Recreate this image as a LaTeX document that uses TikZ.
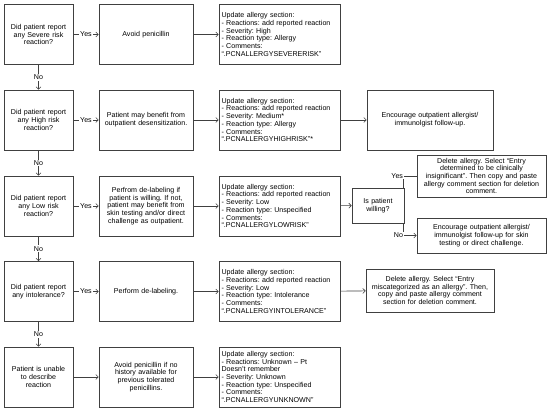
\documentclass[tikz,border=0pt]{standalone}
\usepackage{fontspec}
\setmainfont{Liberation Sans}
\usetikzlibrary{positioning, arrows.meta}
\frenchspacing

\tikzset{
  box/.style={draw=black!75, line width=0.6pt, fill=white, minimum height=60pt,
    inner sep=2pt, align=center, font=\fontsize{7.1}{7.7}\selectfont},
  qbox/.style={box, minimum width=69pt, text width=65pt},
  abox/.style={box, minimum width=94pt, text width=90pt},
  ubox/.style={box, minimum width=121pt, text width=116pt, align=left},
  ebox/.style={box, text width=#1},
  conn/.style={draw=black!75, line width=0.6pt, -{Straight Barb[length=2.5pt,width=5pt]}},
  plain/.style={draw=black!75, line width=0.6pt},
  lbl/.style={fill=white, inner sep=1pt, font=\fontsize{7.1}{7.7}\selectfont},
}

\begin{document}
\begin{tikzpicture}[x=1pt, y=-1pt]
\useasboundingbox (0,0) rectangle (550,411);
% Questions
\node[qbox] (q1) at (38.5,34.5) {Did patient report\\any Severe risk\\reaction?};
\node[qbox] (q2) at (38.5,120) {Did patient report\\any High risk\\reaction?};
\node[qbox] (q3) at (38.5,206) {Did patient report\\any Low risk\\reaction?};
\node[qbox] (q4) at (38.5,291.5) {Did patient report\\any intolerance?};
\node[qbox] (q5) at (38.5,377) {Patient is unable\\to describe\\reaction};
% Actions
\node[abox] (a1) at (146,34.5) {Avoid penicillin};
\node[abox] (a2) at (146,120) {Patient may benefit from\\outpatient desensitization.};
\node[abox] (a3) at (146,206) {Perfrom de-labeling if\\patient is willing. If not,\\patient may benefit from\\skin testing and/or direct\\challenge as outpatient.};
\node[abox] (a4) at (146,291.5) {Perform de-labeling.};
\node[abox] (a5) at (146,377) {Avoid penicillin if no\\history available for\\previous tolerated\\penicillins.};
% Allergy section updates
\node[ubox] (u1) at (279.5,34.5) {Update allergy section:\\- Reactions: add reported reaction\\- Severity: High\\- Reaction type: Allergy\\- Comments:\\“.PCNALLERGYSEVERERISK”};
\node[ubox] (u2) at (279.5,120) {Update allergy section:\\- Reactions: add reported reaction\\- Severity: Medium*\\- Reaction type: Allergy\\- Comments:\\“.PCNALLERGYHIGHRISK”*};
\node[ubox] (u3) at (279.5,206) {Update allergy section:\\- Reactions: add reported reaction\\- Severity: Low\\- Reaction type: Unspecified\\- Comments:\\“.PCNALLERGYLOWRISK”};
\node[ubox] (u4) at (279.5,291.5) {Update allergy section:\\- Reactions: add reported reaction\\- Severity: Low\\- Reaction type: Intolerance\\- Comments:\\“.PCNALLERGYINTOLERANCE”};
\node[ubox] (u5) at (279.5,377) {Update allergy section:\\- Reactions: Unknown – Pt\\Doesn't remember\\- Severity: Unknown\\- Reaction type: Unspecified\\- Comments:\\“.PCNALLERGYUNKNOWN”};
% Follow-up
\node[ebox=122pt, minimum width=126pt] (f2) at (430,120) {Encourage outpatient allergist/\\immunolgist follow-up.};
\node[ebox=48pt, minimum width=52pt, minimum height=35pt] (will) at (378,205.5) {Is patient\\willing?};
\node[ebox=125pt, minimum width=129pt, minimum height=42pt] (yes) at (481.5,176) {Delete allergy. Select “Entry\\determined to be clinically\\insignificant”. Then copy and paste\\allergy comment section for deletion\\comment.};
\node[ebox=125pt, minimum width=129pt, minimum height=35pt] (no) at (481.5,235.5) {Encourage outpatient allergist/\\immunolgist follow-up for skin\\testing or direct challenge.};
\node[ebox=124pt, minimum width=128pt, minimum height=43pt] (f4) at (430,290.5) {Delete allergy. Select “Entry\\miscategorized as an allergy”. Then,\\copy and paste allergy comment\\section for deletion comment.};
% Connectors
\foreach \i in {1,2,3,4}{
  \draw[conn] (q\i) -- node[lbl] {Yes} (a\i);
}
\draw[conn] (q5) -- (a5);
\foreach \i in {1,...,5}{
  \draw[conn] (a\i) -- (u\i);
}
\foreach \a/\b in {q1/q2,q2/q3,q3/q4,q4/q5}{
  \draw[conn] (\a) -- node[lbl] {No} (\b);
}
\draw[conn] (u2) -- (f2);
\draw[conn] (u3) -- (will);
\draw[conn] (u4) -- (f4);
\draw[plain] ([xshift=-1pt]will.north east) |- node[lbl, pos=0.5, left=-1pt] {Yes} (yes.west);
\draw[conn] ([xshift=-1pt]will.south east) |- node[lbl, pos=0.5, left=-1pt] {No} (no.west);
\end{tikzpicture}
\end{document}
